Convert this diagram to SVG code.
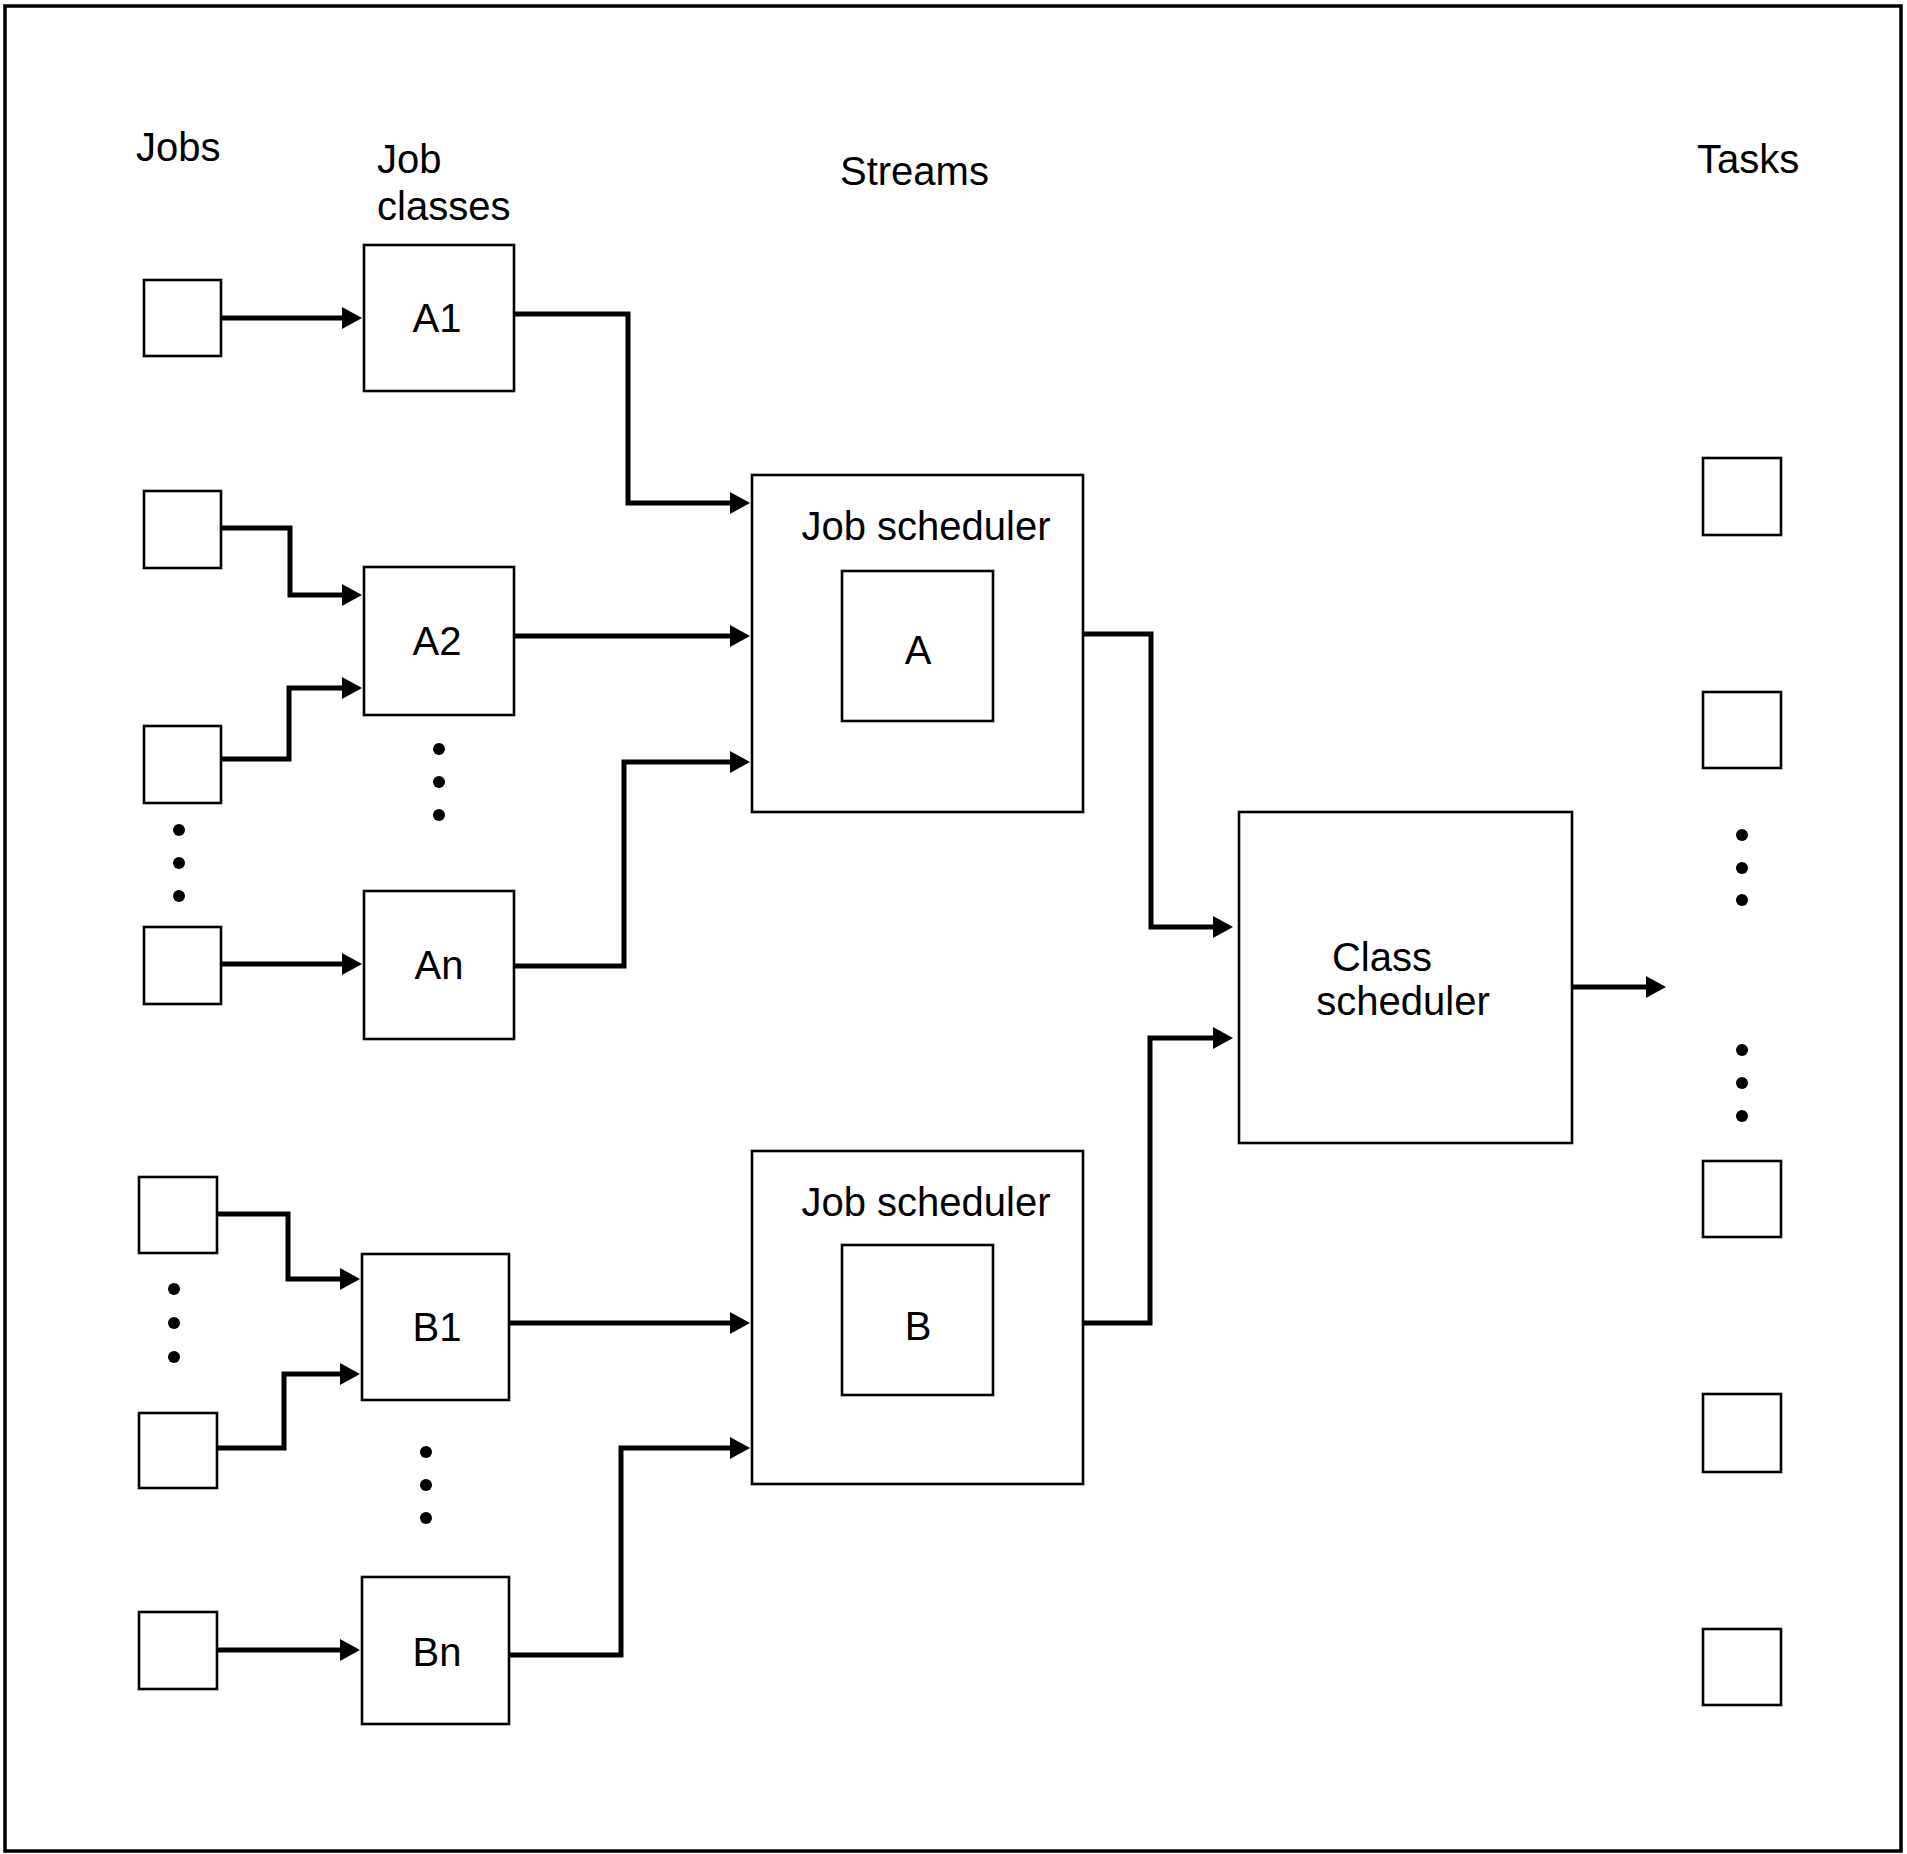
<svg xmlns="http://www.w3.org/2000/svg" width="1907" height="1854" viewBox="0 0 1907 1854">
<style>
.box{fill:#fff;stroke:#000;stroke-width:2.6}
.conn{fill:none;stroke:#000;stroke-width:5}
.t{font-family:"Liberation Sans",Arial,sans-serif;font-size:40px;fill:#000}
.m{text-anchor:middle}
.dot{fill:#000}
</style>
<defs>
<marker id="ah" markerUnits="userSpaceOnUse" markerWidth="22" markerHeight="24" refX="7" refY="12" orient="auto">
<path d="M0,1 L20,12 L0,23 z" fill="#000"/>
</marker>
</defs>
<rect x="5" y="6" width="1896" height="1845" fill="#fff" stroke="#000" stroke-width="3.5"/>

<g id="headers">
<text class="t" x="136" y="161">Jobs</text>
<text class="t" x="377" y="173">Job</text>
<text class="t" x="377" y="220">classes</text>
<text class="t" x="840" y="185">Streams</text>
<text class="t" x="1697" y="173">Tasks</text>
</g>

<g id="job1"><rect class="box" x="144" y="280" width="77" height="76"/></g>
<g id="job2"><rect class="box" x="144" y="491" width="77" height="77"/></g>
<g id="job3"><rect class="box" x="144" y="726" width="77" height="77"/></g>
<g id="job4"><rect class="box" x="144" y="927" width="77" height="77"/></g>
<g id="job5"><rect class="box" x="139" y="1177" width="78" height="76"/></g>
<g id="job6"><rect class="box" x="139" y="1413" width="78" height="75"/></g>
<g id="job7"><rect class="box" x="139" y="1612" width="78" height="77"/></g>

<g id="A1"><rect class="box" x="364" y="245" width="150" height="146"/><text class="t m" x="437" y="332">A1</text></g>
<g id="A2"><rect class="box" x="364" y="567" width="150" height="148"/><text class="t m" x="437" y="655">A2</text></g>
<g id="An"><rect class="box" x="364" y="891" width="150" height="148"/><text class="t m" x="439" y="979">An</text></g>
<g id="B1"><rect class="box" x="362" y="1254" width="147" height="146"/><text class="t m" x="437" y="1341">B1</text></g>
<g id="Bn"><rect class="box" x="362" y="1577" width="147" height="147"/><text class="t m" x="437" y="1666">Bn</text></g>

<g id="jobschedA">
<rect class="box" x="752" y="475" width="331" height="337"/>
<text class="t m" x="926" y="540">Job scheduler</text>
<rect class="box" x="842" y="571" width="151" height="150"/>
<text class="t m" x="918" y="664">A</text>
</g>
<g id="jobschedB">
<rect class="box" x="752" y="1151" width="331" height="333"/>
<text class="t m" x="926" y="1216">Job scheduler</text>
<rect class="box" x="842" y="1245" width="151" height="150"/>
<text class="t m" x="918" y="1340">B</text>
</g>
<g id="classsched">
<rect class="box" x="1239" y="812" width="333" height="331"/>
<text class="t m" x="1382" y="971">Class</text>
<text class="t m" x="1403" y="1015">scheduler</text>
</g>

<g id="task1"><rect class="box" x="1703" y="458" width="78" height="77"/></g>
<g id="task2"><rect class="box" x="1703" y="692" width="78" height="76"/></g>
<g id="task3"><rect class="box" x="1703" y="1161" width="78" height="76"/></g>
<g id="task4"><rect class="box" x="1703" y="1394" width="78" height="78"/></g>
<g id="task5"><rect class="box" x="1703" y="1629" width="78" height="76"/></g>

<g id="ellipses">
<circle class="dot" cx="179" cy="830" r="6"/><circle class="dot" cx="179" cy="863" r="6"/><circle class="dot" cx="179" cy="896" r="6"/>
<circle class="dot" cx="439" cy="749" r="6"/><circle class="dot" cx="439" cy="782" r="6"/><circle class="dot" cx="439" cy="815" r="6"/>
<circle class="dot" cx="174" cy="1289" r="6"/><circle class="dot" cx="174" cy="1323" r="6"/><circle class="dot" cx="174" cy="1357" r="6"/>
<circle class="dot" cx="426" cy="1452" r="6"/><circle class="dot" cx="426" cy="1485" r="6"/><circle class="dot" cx="426" cy="1518" r="6"/>
<circle class="dot" cx="1742" cy="835" r="6"/><circle class="dot" cx="1742" cy="868" r="6"/><circle class="dot" cx="1742" cy="900" r="6"/>
<circle class="dot" cx="1742" cy="1050" r="6"/><circle class="dot" cx="1742" cy="1083" r="6"/><circle class="dot" cx="1742" cy="1116" r="6"/>
</g>

<g id="connectors">
<path class="conn" marker-end="url(#ah)" d="M221,318 H349"/>
<path class="conn" marker-end="url(#ah)" d="M221,528 H290 V595 H349"/>
<path class="conn" marker-end="url(#ah)" d="M221,759 H289 V688 H349"/>
<path class="conn" marker-end="url(#ah)" d="M221,964 H349"/>
<path class="conn" marker-end="url(#ah)" d="M514,314 H628 V503 H737"/>
<path class="conn" marker-end="url(#ah)" d="M514,636 H737"/>
<path class="conn" marker-end="url(#ah)" d="M514,966 H624 V762 H737"/>
<path class="conn" marker-end="url(#ah)" d="M217,1214 H288 V1279 H347"/>
<path class="conn" marker-end="url(#ah)" d="M217,1448 H284 V1374 H347"/>
<path class="conn" marker-end="url(#ah)" d="M217,1650 H347"/>
<path class="conn" marker-end="url(#ah)" d="M509,1323 H737"/>
<path class="conn" marker-end="url(#ah)" d="M509,1655 H621 V1448 H737"/>
<path class="conn" marker-end="url(#ah)" d="M1083,634 H1151 V927 H1220"/>
<path class="conn" marker-end="url(#ah)" d="M1083,1323 H1150 V1038 H1220"/>
<path class="conn" marker-end="url(#ah)" d="M1572,987 H1653"/>
</g>
</svg>
